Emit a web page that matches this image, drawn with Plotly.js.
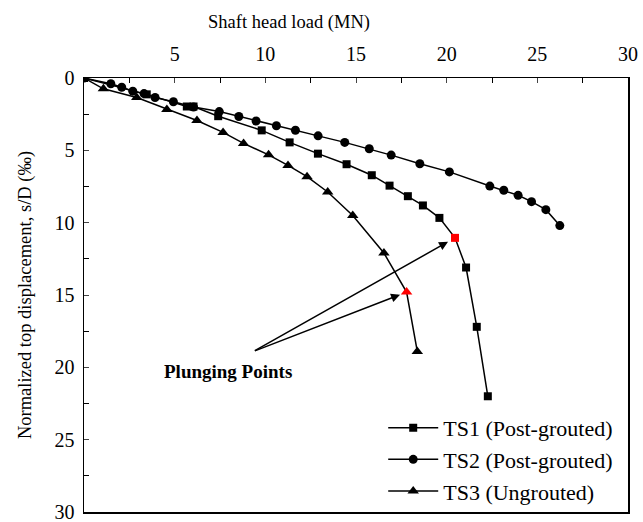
<!DOCTYPE html>
<html>
<head>
<meta charset="utf-8">
<script src="https://cdn.plot.ly/plotly-3.0.1.min.js"></script>
<style>html,body{margin:0;padding:0;background:#fff;}</style>
</head>
<body>
<div id="chart" style="width:643px;height:522px;"></div>
<script>
// TS1 (Post-grouted)
const ts1Load = [0, 3.46, 5.67, 6.04, 7.40, 9.80, 11.34, 12.90, 14.48, 15.87, 16.85, 17.86, 18.69, 19.60, 20.46, 21.07, 21.66, 22.27];
const ts1Disp = [0, 1.13, 1.97, 1.97, 2.64, 3.62, 4.45, 5.23, 5.96, 6.72, 7.44, 8.17, 8.81, 9.67, 11.05, 13.1, 17.2, 22.0];
// TS2 (Post-grouted)
const ts2Load = [0, 1.48, 2.08, 2.69, 3.31, 3.92, 4.93, 6.04, 7.46, 8.54, 9.49, 10.61, 11.66, 12.91, 14.38, 15.73, 16.94, 18.52, 20.15, 22.38, 23.15, 23.94, 24.68, 25.47, 26.24];
const ts2Disp = [0, 0.40, 0.64, 0.91, 1.08, 1.35, 1.64, 2.01, 2.32, 2.66, 2.97, 3.30, 3.61, 4.00, 4.45, 4.89, 5.33, 5.93, 6.49, 7.47, 7.76, 8.11, 8.55, 9.1, 10.2];
// TS3 (Ungrouted)
const ts3Load = [0, 1.07, 2.91, 4.57, 6.23, 7.67, 8.80, 10.18, 11.25, 12.30, 13.44, 14.82, 16.54, 17.79, 18.38];
const ts3Disp = [0, 0.75, 1.35, 2.17, 2.94, 3.76, 4.52, 5.31, 6.04, 6.82, 7.88, 9.5, 12.1, 14.8, 18.9];
// Plunging point indices
const ts1Plunge = 14;
const ts3Plunge = 13;
const names = ["TS1 (Post-grouted)", "TS2 (Post-grouted)", "TS3 (Ungrouted)"];
const xTicks = [5, 10, 15, 20, 25, 30];
const yTicks = [0, 5, 10, 15, 20, 25, 30];
const xTitle = "Shaft head load (MN)";
const yTitle = "Normalized top displacement, s/D (‰)";
const annText = "Plunging Points";
const annTail = [9.34, 18.9];
const annLabel = [7.96, 20.3];

function colors(n, idx) {
  const c = [];
  for (let i = 0; i < n; i++) c.push(i === idx ? "#ff0000" : "#000000");
  return c;
}

const FAM = "'Liberation Serif', 'Times New Roman', Times, 'DejaVu Serif', serif";
const lineStyle = {color: "#000", width: 1.5};
const traces = [
  {x: ts1Load, y: ts1Disp, name: names[0], mode: "lines+markers", line: lineStyle,
   marker: {symbol: "square", size: 8, color: colors(ts1Load.length, ts1Plunge)}},
  {x: ts2Load, y: ts2Disp, name: names[1], mode: "lines+markers", line: lineStyle,
   marker: {symbol: "circle", size: 9, color: "#000"}},
  {x: ts3Load, y: ts3Disp, name: names[2], mode: "lines+markers", line: lineStyle,
   marker: {symbol: "triangle-up", size: 10, color: colors(ts3Load.length, ts3Plunge)}}
];

const tickFont = {family: FAM, size: 20, color: "#000"};
const titleFont = {family: FAM, size: 18.5, color: "#000"};

const layout = {
  width: 643, height: 522,
  margin: {l: 84, r: 15, t: 78, b: 10, autoexpand: false},
  paper_bgcolor: "#fff", plot_bgcolor: "#fff",
  font: titleFont,
  title: {text: xTitle, font: titleFont, x: (289 - 84) / 544, xanchor: "center", xref: "paper",
          y: 1 - 22 / 522, yanchor: "middle", yref: "container", automargin: false},
  showlegend: true,
  legend: {x: 0.982, xanchor: "right", y: 0.242, yanchor: "top", bgcolor: "rgba(0,0,0,0)",
           font: {family: FAM, size: 22, color: "#000"}, tracegroupgap: 0, itemwidth: 50},
  xaxis: {
    side: "top", range: [0, 30], tickvals: xTicks, ticks: "inside", ticklen: 5, automargin: false,
    showgrid: false, zeroline: false, showline: true, linecolor: "#000", linewidth: 1.5, mirror: true,
    tickfont: tickFont, ticklabelstandoff: 8, ticklabeloverflow: "allow",
    minor: {dtick: 2.5, ticks: "inside", ticklen: 5, tickcolor: "#000", showgrid: false}
  },
  yaxis: {
    range: [30, 0], tickvals: yTicks, ticks: "inside", ticklen: 5, automargin: false,
    showgrid: false, zeroline: false, showline: true, linecolor: "#000", linewidth: 1.5, mirror: true,
    tickfont: tickFont, ticklabelstandoff: 4, ticklabeloverflow: "allow",
    minor: {dtick: 2.5, ticks: "inside", ticklen: 5, tickcolor: "#000", showgrid: false},
    title: {text: yTitle, font: titleFont, standoff: 18}
  },
  annotations: [
    {x: ts1Load[ts1Plunge], y: ts1Disp[ts1Plunge], xref: "x", yref: "y",
     ax: annTail[0], ay: annTail[1], axref: "x", ayref: "y",
     text: "", showarrow: true, arrowhead: 2, arrowsize: 1.2, arrowwidth: 1.5, arrowcolor: "#000", standoff: 8},
    {x: ts3Load[ts3Plunge], y: ts3Disp[ts3Plunge], xref: "x", yref: "y",
     ax: annTail[0], ay: annTail[1], axref: "x", ayref: "y",
     text: "", showarrow: true, arrowhead: 2, arrowsize: 1.2, arrowwidth: 1.5, arrowcolor: "#000", standoff: 7},
    {x: annLabel[0], y: annLabel[1], xref: "x", yref: "y", text: "<b>" + annText + "</b>",
     showarrow: false, font: {family: FAM, size: 19, color: "#000"}}
  ]
};

Plotly.newPlot("chart", traces, layout, {displayModeBar: false, staticPlot: true});
</script>
</body>
</html>
